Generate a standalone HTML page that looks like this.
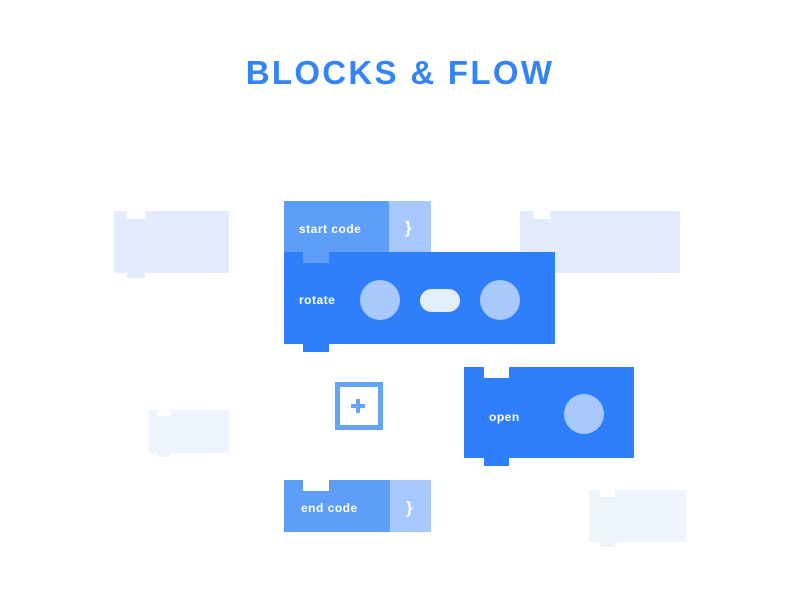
<!DOCTYPE html>
<html><head><meta charset="utf-8"><style>
html,body{margin:0;padding:0;background:#fff;}
body{width:800px;height:600px;position:relative;overflow:hidden;font-family:"Liberation Sans",sans-serif;}
.a{position:absolute;}
.t{position:absolute;color:#fff;font-weight:bold;font-size:12px;letter-spacing:0.5px;line-height:14px;white-space:nowrap;}
.br{position:absolute;color:#fff;font-weight:bold;font-size:17px;line-height:20px;}
.c{position:absolute;border-radius:50%;background:#a7c9fb;}
</style></head><body>
<div class="a" style="left:0;top:55px;width:800px;text-align:center;color:#3384f7;font-weight:bold;font-size:33px;letter-spacing:2.3px;line-height:36px;">BLOCKS &amp; FLOW</div>

<!-- faded blocks -->
<div class="a" style="left:114px;top:211px;width:115px;height:62px;background:#e2ecfd;"></div>
<div class="a" style="left:127px;top:211px;width:18px;height:8px;background:#fff;"></div>
<div class="a" style="left:127px;top:273px;width:18px;height:5px;background:#e2ecfd;"></div>

<div class="a" style="left:520px;top:211px;width:160px;height:62px;background:#e2ecfd;"></div>
<div class="a" style="left:533px;top:211px;width:17px;height:8px;background:#fff;"></div>

<div class="a" style="left:149px;top:410px;width:80px;height:43px;background:#edf4fe;"></div>
<div class="a" style="left:158px;top:410px;width:12px;height:6px;background:#fff;"></div>
<div class="a" style="left:158px;top:453px;width:12px;height:4px;background:#edf4fe;"></div>

<div class="a" style="left:589px;top:490px;width:97px;height:52px;background:#edf4fe;"></div>
<div class="a" style="left:600px;top:490px;width:15px;height:7px;background:#fff;"></div>
<div class="a" style="left:600px;top:542px;width:15px;height:5px;background:#edf4fe;"></div>

<!-- start code -->
<div class="a" style="left:284px;top:201px;width:105px;height:51px;background:#5e9ef9;"></div>
<div class="a" style="left:389px;top:201px;width:42px;height:51px;background:#a6c8fd;"></div>
<div class="t" style="left:299px;top:222px;">start code</div>
<div class="br" style="left:405px;top:218px;">}</div>

<!-- rotate -->
<div class="a" style="left:284px;top:252px;width:271px;height:92px;background:#2f7ffd;"></div>
<div class="a" style="left:303px;top:252px;width:26px;height:11px;background:#5e9ef9;"></div>
<div class="a" style="left:303px;top:344px;width:26px;height:8px;background:#2f7ffd;"></div>
<div class="t" style="left:299px;top:293px;">rotate</div>
<div class="c" style="left:360px;top:280px;width:40px;height:40px;"></div>
<div class="a" style="left:420px;top:289px;width:40px;height:23px;border-radius:12px;background:#e4effd;"></div>
<div class="c" style="left:480px;top:280px;width:40px;height:40px;"></div>

<!-- plus -->
<div class="a" style="left:335px;top:382px;width:38px;height:38px;border:5px solid #68a3fa;"></div>
<div class="a" style="left:351px;top:404px;width:14px;height:4px;background:#68a3fa;"></div>
<div class="a" style="left:356px;top:399px;width:4px;height:14px;background:#68a3fa;"></div>

<!-- open -->
<div class="a" style="left:464px;top:367px;width:170px;height:91px;background:#2f7ffd;"></div>
<div class="a" style="left:484px;top:367px;width:25px;height:11px;background:#fff;"></div>
<div class="a" style="left:484px;top:458px;width:25px;height:8px;background:#2f7ffd;"></div>
<div class="t" style="left:489px;top:410px;">open</div>
<div class="c" style="left:564px;top:394px;width:40px;height:40px;"></div>

<!-- end code -->
<div class="a" style="left:284px;top:480px;width:106px;height:52px;background:#5e9ef9;"></div>
<div class="a" style="left:390px;top:480px;width:41px;height:52px;background:#a6c8fd;"></div>
<div class="a" style="left:303px;top:480px;width:26px;height:11px;background:#fff;"></div>
<div class="t" style="left:301px;top:501px;">end code</div>
<div class="br" style="left:406px;top:498px;">}</div>
</body></html>
